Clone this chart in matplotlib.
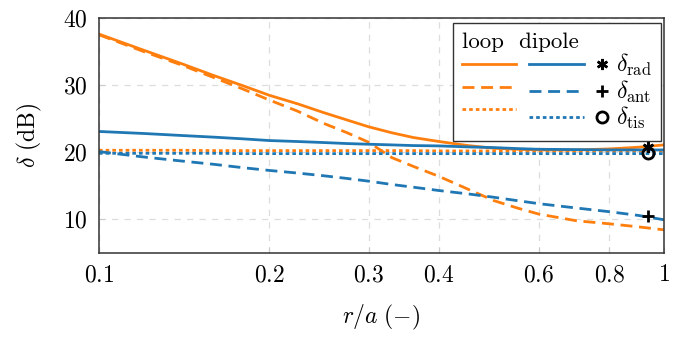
import matplotlib
matplotlib.use("Agg")
import matplotlib.pyplot as plt
from matplotlib.lines import Line2D
from matplotlib.legend_handler import HandlerBase

# r/a sample points and delta values in dB
r = [0.1, 0.12, 0.14, 0.16, 0.18, 0.2, 0.225, 0.25, 0.275, 0.3, 0.33, 0.36,
     0.4, 0.45, 0.5, 0.55, 0.6, 0.7, 0.8, 0.9, 1.0]
loop_rad = [37.6, 35.2, 33.2, 31.4, 29.9, 28.5, 27.2, 25.9, 24.8, 23.8, 22.9, 22.2,
            21.6, 21.0, 20.6, 20.45, 20.35, 20.35, 20.5, 20.75, 21.1]
loop_ant = [37.5, 35.0, 33.0, 31.1, 29.4, 27.8, 26.1, 24.3, 22.9, 21.5, 19.2, 17.9,
            16.4, 14.5, 12.8, 11.7, 10.8, 9.8, 9.35, 8.9, 8.45]
loop_tis = [20.3, 20.3, 20.3, 20.25, 20.25, 20.25, 20.25, 20.25, 20.25, 20.25, 20.25, 20.25,
            20.2, 20.2, 20.2, 20.2, 20.2, 20.2, 20.2, 20.2, 20.2]
dipole_rad = [23.1, 22.8, 22.5, 22.25, 22.0, 21.75, 21.6, 21.45, 21.3, 21.2, 21.1, 21.0,
              20.95, 20.8, 20.7, 20.55, 20.45, 20.4, 20.35, 20.35, 20.35]
dipole_ant = [20.1, 19.3, 18.7, 18.2, 17.7, 17.3, 16.9, 16.5, 16.1, 15.7, 15.2, 14.8,
              14.3, 13.8, 13.3, 12.8, 12.35, 11.7, 11.15, 10.6, 9.95]
dipole_tis = [19.85, 19.85, 19.85, 19.85, 19.8, 19.8, 19.8, 19.8, 19.8, 19.8, 19.8, 19.8,
              19.8, 19.8, 19.8, 19.8, 19.8, 19.8, 19.8, 19.8, 19.8]

# measured points
r_meas = [0.935]
meas_rad = [20.75]
meas_ant = [10.55]
meas_tis = [19.9]

xticks = [0.1, 0.2, 0.3, 0.4, 0.6, 0.8, 1]
xticklabels = ["$0.1$", "$0.2$", "$0.3$", "$0.4$", "$0.6$", "$0.8$", "$1$"]
yticks = [10, 20, 30, 40]

plt.rcParams["mathtext.fontset"] = "cm"
plt.rcParams["font.family"] = "serif"
plt.rcParams["font.serif"] = ["cmr10", "DejaVu Serif"]
plt.rcParams["axes.formatter.use_mathtext"] = True

orange = "#ff7f0e"
blue = "#1f77b4"
lw = 2.0
dash = (0, (4.3, 2.4))
dot = (0, (1.3, 1.1))
fs = 17


class LineAndMarker(HandlerBase):
    # legend entry: a line sample followed by a marker just right of it
    def create_artists(self, legend, orig_handle, xdescent, ydescent,
                       width, height, fontsize, trans):
        line, mark = orig_handle
        y = height / 2 - ydescent
        ln = Line2D([-xdescent, width - xdescent], [y, y])
        ln.update_from(line)
        ln.set_transform(trans)
        mk = Line2D([width - xdescent + 0.78 * fontsize], [y])
        mk.update_from(mark)
        mk.set_transform(trans)
        return [ln, mk]


fig = plt.figure(figsize=(6.81, 3.42), dpi=100)
ax = fig.add_axes([99 / 681, 1 - 253 / 342, 565 / 681, 235 / 342])

ax.plot(r, loop_rad, color=orange, lw=lw)
ax.plot(r, loop_ant, color=orange, lw=lw, linestyle=dash)
ax.plot(r, loop_tis, color=orange, lw=lw, linestyle=dot)
ax.plot(r, dipole_rad, color=blue, lw=lw)
ax.plot(r, dipole_ant, color=blue, lw=lw, linestyle=dash)
ax.plot(r, dipole_tis, color=blue, lw=lw, linestyle=dot)

m_rad = dict(linestyle="none", marker=(6, 2, 0), color="black", ms=8, mew=1.8)
m_ant = dict(linestyle="none", marker="+", color="black", ms=9, mew=2)
m_tis = dict(linestyle="none", marker="o", mfc="none", mec="black", ms=8, mew=2)
ax.plot(r_meas, meas_rad, zorder=6, **m_rad)
ax.plot(r_meas, meas_ant, zorder=6, **m_ant)
ax.plot(r_meas, meas_tis, zorder=6, **m_tis)

ax.set_xscale("log")
ax.set_xlim(0.1, 1)
ax.set_ylim(5, 40)
ax.set_xticks(xticks)
ax.set_xticklabels(xticklabels)
ax.minorticks_off()
ax.set_yticks(yticks)
ax.set_yticklabels(["$%d$" % v for v in yticks])
ax.tick_params(direction="in", length=4, color="#cccccc", labelsize=17, pad=8)
ax.grid(True, linestyle=(0, (5, 5)), color="#dddddd", lw=0.9)
for s in ax.spines.values():
    s.set_color("#333333")
    s.set_linewidth(1.1)

ax.set_xlabel(r"$r/a\ (-)$", fontsize=17, labelpad=12)
ax.set_ylabel(r"$\delta\ \mathrm{(dB)}$", fontsize=17, labelpad=14)

handles = [
    Line2D([], [], color=orange, lw=lw),
    Line2D([], [], color=orange, lw=lw, linestyle=dash),
    Line2D([], [], color=orange, lw=lw, linestyle=dot),
    (Line2D([], [], color=blue, lw=lw), Line2D([], [], **m_rad)),
    (Line2D([], [], color=blue, lw=lw, linestyle=dash), Line2D([], [], **m_ant)),
    (Line2D([], [], color=blue, lw=lw, linestyle=dot), Line2D([], [], **m_tis)),
]
labels = ["", "", "",
          r"$\delta_{\mathrm{rad}}$", r"$\delta_{\mathrm{ant}}$", r"$\delta_{\mathrm{tis}}$"]
leg = ax.legend(handles, labels, ncol=2, loc="upper right",
                bbox_to_anchor=(1 - 3 / 565, 1 - 5 / 235), borderaxespad=0,
                handler_map={tuple: LineAndMarker()},
                title="loop  dipole", title_fontsize=16.5, fontsize=fs,
                handlelength=2.3, handletextpad=1.36, columnspacing=-0.81,
                labelspacing=0.02, borderpad=0.4, fancybox=False, framealpha=1,
                edgecolor="#333333")
leg._legend_box.align = "left"
leg.get_frame().set_linewidth(1.0)

fig.savefig("out.png", dpi=100)
